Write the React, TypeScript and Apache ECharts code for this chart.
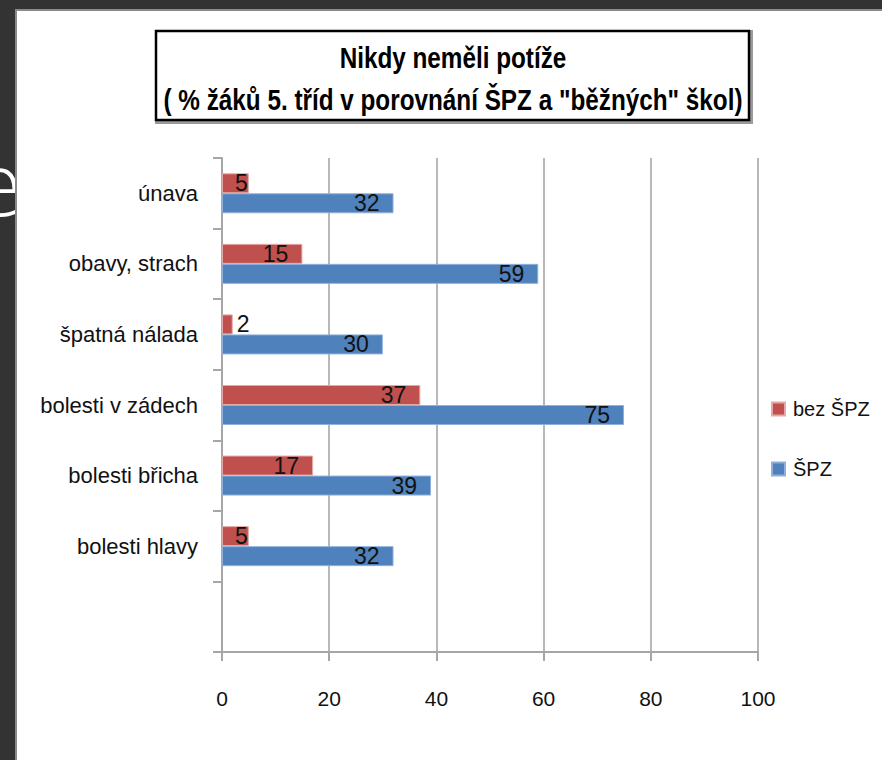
import React, { useEffect, useRef } from "react";
import * as echarts from "echarts";

const categories = ["", "bolesti hlavy", "bolesti břicha", "bolesti v zádech", "špatná nálada", "obavy, strach", "únava"];
const bezSPZ = [null, 5, 17, 37, 2, 15, 5];
const SPZ = [null, 32, 39, 75, 30, 59, 32];
const seriesNames = ["bez ŠPZ", "ŠPZ"];
const xTicks = { min: 0, max: 100, interval: 20 };
const titleLines = ["Nikdy neměli potíže", "( % žáků 5. tříd v porovnání ŠPZ a \"běžných\" škol)"];

const FONT = "'Liberation Sans', Arial, sans-serif";

function labelFor(v: number | null) {
  if (v === null) return { value: v };
  if (v <= 2) return { value: v, label: { position: "right", distance: 4 } };
  if (v <= 5) return { value: v, label: { distance: 1 } };
  return { value: v };
}

export default function App() {
  const ref = useRef<HTMLDivElement>(null);
  useEffect(() => {
    if (!ref.current) return;
    const chart = echarts.init(ref.current, null, { renderer: "svg" });
    const labelBase = {
      show: true,
      position: "insideRight",
      distance: 14,
      color: "#111111",
      fontFamily: FONT,
      fontSize: 23,
    };
    chart.setOption({
      animation: false,
      backgroundColor: "#333333",
      graphic: [
        { type: "text", x: 22, y: 182, z: -20, style: { text: "e", fill: "#ffffff", font: "300 88px 'Open Sans', sans-serif", textAlign: "right", textVerticalAlign: "middle" } },
        { type: "rect", z: -19, shape: { x: 15, y: 9, width: 870, height: 760 }, style: { fill: "#8a8a8a" } },
        { type: "rect", z: -18, shape: { x: 17, y: 11, width: 870, height: 760 }, style: { fill: "#ffffff" } },
        { type: "rect", z: -17, shape: { x: 157, y: 32, width: 594, height: 90 }, style: { fill: "#ffffff", stroke: "#9a9a9a", lineWidth: 4 } },
        { type: "rect", z: -16, shape: { x: 156, y: 31, width: 593, height: 89 }, style: { fill: "#ffffff", stroke: "#000000", lineWidth: 2.5 } },
        {
          type: "text", x: 453, y: 58, z: 10, scaleX: 0.81,
          style: { text: titleLines[0], fill: "#000", font: "bold 30px 'Liberation Sans', Arial, sans-serif", textAlign: "center", textVerticalAlign: "middle" },
        },
        {
          type: "text", x: 453, y: 100, z: 10, scaleX: 0.81,
          style: { text: titleLines[1], fill: "#000", font: "bold 30px 'Liberation Sans', Arial, sans-serif", textAlign: "center", textVerticalAlign: "middle" },
        },
      ],
      legend: {
        orient: "vertical",
        left: 771,
        top: 399,
        padding: 0,
        itemWidth: 13,
        itemHeight: 13,
        itemGap: 40,
        icon: "rect",
        textStyle: { fontFamily: FONT, fontSize: 20, color: "#111111", padding: [0, 0, 0, 3] },
        data: seriesNames,
      },
      grid: { left: 222, right: 124, top: 158, bottom: 108, containLabel: false },
      xAxis: {
        type: "value",
        min: xTicks.min,
        max: xTicks.max,
        interval: xTicks.interval,
        axisLine: { show: true, lineStyle: { color: "#a6a6a6", width: 2 } },
        axisTick: { show: true, length: 9, lineStyle: { color: "#a6a6a6", width: 2 } },
        axisLabel: { margin: 36, color: "#111111", fontFamily: FONT, fontSize: 21 },
        splitLine: { show: true, lineStyle: { color: "#b8b8b8", width: 2 } },
      },
      yAxis: {
        type: "category",
        data: categories,
        axisLine: { show: true, lineStyle: { color: "#a6a6a6", width: 2 } },
        axisTick: { show: true, length: 9, lineStyle: { color: "#a6a6a6", width: 2 } },
        axisLabel: { margin: 24, color: "#111111", fontFamily: FONT, fontSize: 22 },
        splitLine: { show: false },
      },
      series: [
        {
          name: seriesNames[0],
          type: "bar",
          barWidth: 20,
          barGap: "0%",
          data: bezSPZ.map(labelFor),
          itemStyle: { color: "#C0504D", borderColor: "#e3a9a7", borderWidth: 1 },
          label: labelBase,
        },
        {
          name: seriesNames[1],
          type: "bar",
          barWidth: 20,
          barGap: "0%",
          data: SPZ.map(labelFor),
          itemStyle: { color: "#4F81BD", borderColor: "#8eb0da", borderWidth: 1 },
          label: labelBase,
        },
      ],
    });
    return () => chart.dispose();
  }, []);
  return <div ref={ref} style={{ position: "absolute", left: 0, top: 0, width: 882, height: 760 }} />;
}
